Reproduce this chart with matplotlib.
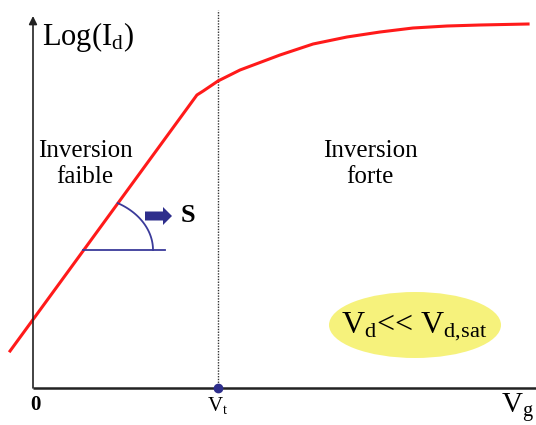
import matplotlib
matplotlib.use("Agg")
import matplotlib.pyplot as plt
from matplotlib.patches import Ellipse, FancyArrow
import numpy as np

plt.rcParams["font.family"] = ["Liberation Serif", "DejaVu Serif"]
plt.rcParams["mathtext.fontset"] = "custom"
plt.rcParams["mathtext.rm"] = "Liberation Serif"
plt.rcParams["mathtext.it"] = "Liberation Serif:italic"
plt.rcParams["mathtext.bf"] = "Liberation Serif:bold"

# gate voltage (units of Vt) and log of drain current
vg = [-0.124, 0.886, 0.92, 1.0, 1.119, 1.335, 1.514, 1.697, 1.876, 2.054, 2.238, 2.416, 2.676]
log_id = [0.37, 2.93, 2.97, 3.07, 3.18, 3.33, 3.44, 3.51, 3.56, 3.60, 3.62, 3.63, 3.64]
vt = 1.0

# layout: 1 unit of vg = 185 px, 1 unit of log_id = 100 px, origin at (33, 388) px
sx, sy = 185.0, 100.0
x0, y0 = 33.0, 388.0
W, H = 536, 425


def px(x, y):
    return (x - x0) / sx, (y0 - y) / sy


fig = plt.figure(figsize=(W / 100, H / 100), dpi=100)
ax = fig.add_axes([0, 0, 1, 1])
ax.set_xlim(-x0 / sx, (W - x0) / sx)
ax.set_ylim((y0 - H) / sy, y0 / sy)
ax.axis("off")

# axes
ax.plot([0, (W - x0) / sx], [0, 0], color="#222222", lw=1.8, solid_capstyle="butt")
ax.annotate("", xy=(0, (y0 - 16) / sy), xytext=(0, 0),
            arrowprops=dict(arrowstyle="-|>", color="#222222", lw=1.2,
                            mutation_scale=12, shrinkA=0, shrinkB=0))

# threshold line
ax.plot([vt, vt], [0, (y0 - 10) / sy], color="#333333", lw=1.0, ls=(0, (1, 1)))
ax.plot([vt], [0], "o", color="#2e2e8c", ms=6, zorder=5)

# characteristic
ax.plot(vg, log_id, color="#ff1a1a", lw=2.2, solid_joinstyle="round")

# slope marker: horizontal base and elliptical arc up to the red line
blue = "#3a3a9a"
cx, cy = 83, 250
ax.plot(*zip(px(cx, cy), px(165, cy)), color=blue, lw=1.3)
t = np.radians(np.linspace(0, 60.3, 60))
ax.plot(*px(cx + 70 * np.cos(t), cy - 54 * np.sin(t)), color=blue, lw=1.3)
ax.add_patch(FancyArrow(*px(145, 216), 18 / sx, 0,
                        width=9 / sy, head_width=18 / sy, head_length=9 / sx,
                        length_includes_head=False, color="#2e2e8c", lw=0))
ax.text(*px(181, 216), "S", fontsize=19, fontweight="bold",
        ha="left", va="center")

# labels
ax.text(*px(42, 45), r"Log(I$_\mathrm{d}$)", fontsize=22,
        ha="left", va="baseline")
ax.text(*px(85, 164), "Inversion\nfaible", fontsize=18,
        ha="center", va="center", linespacing=1.2)
ax.text(*px(370, 164), "Inversion\nforte", fontsize=18,
        ha="center", va="center", linespacing=1.2)

ax.add_patch(Ellipse(px(415, 325), 172 / sx, 66 / sy,
                     color="#f6f27c", lw=0))
ax.text(*px(414, 327),
        r"V$_\mathrm{d}$<< V$_\mathrm{d{,}sat}$", fontsize=23,
        ha="center", va="center")

ax.text(*px(35, 405), "0", fontsize=15, fontweight="bold",
        ha="center", va="center")
ax.text(vt, (y0 - 405) / sy, r"V$_\mathrm{t}$", fontsize=15,
        ha="center", va="center")
ax.text(*px(501, 408), r"V$_\mathrm{g}$", fontsize=21,
        ha="left", va="center")

fig.savefig("out.png", dpi=100)
